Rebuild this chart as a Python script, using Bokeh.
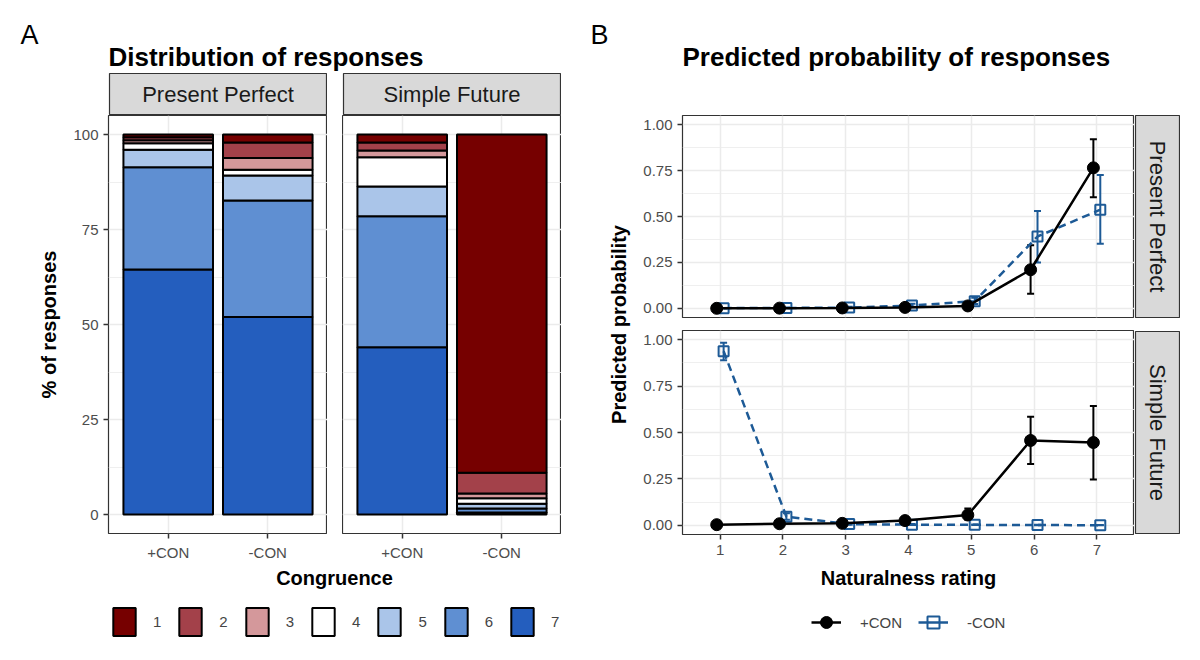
import numpy as np
from bokeh.plotting import figure
from bokeh.layouts import row, column
from bokeh.models import (Range1d, FactorRange, FixedTicker, Label, Legend, LegendItem,
                          ColumnDataSource, Whisker, TeeHead, Spacer, PrintfTickFormatter)
from bokeh.transform import dodge
from bokeh.embed import file_html
from bokeh.resources import INLINE

FONT = "Liberation Sans"

# ---------------- data ----------------
levels = ["1", "2", "3", "4", "5", "6", "7"]
level_colors = ["#760000", "#a3414a", "#d4989b", "#ffffff", "#aac5e9", "#5f8fd2", "#245ebe"]
congruence = ["+CON", "-CON"]
facets = ["Present Perfect", "Simple Future"]

# % of responses per rating level (1..7)
pp_plus_pct = [0.7, 0.8, 0.8, 1.7, 4.6, 26.9, 64.5]
pp_minus_pct = [2.1, 4.1, 3.1, 1.5, 6.6, 30.6, 52.0]
sf_plus_pct = [2.1, 2.1, 1.8, 7.7, 7.8, 34.5, 44.0]
sf_minus_pct = [89.0, 5.5, 1.2, 1.5, 1.2, 1.1, 0.5]

pct_ticks = [0, 25, 50, 75, 100]
pct_minor = [12.5, 37.5, 62.5, 87.5]

# predicted probabilities
ratings = [1, 2, 3, 4, 5, 6, 7]
pp_plus_prob = [0.000, 0.001, 0.002, 0.005, 0.013, 0.210, 0.765]
pp_plus_lo = [0.000, 0.000, 0.001, 0.002, 0.007, 0.080, 0.605]
pp_plus_hi = [0.001, 0.002, 0.004, 0.010, 0.022, 0.343, 0.920]
pp_minus_prob = [0.001, 0.002, 0.004, 0.015, 0.039, 0.391, 0.537]
pp_minus_lo = [0.000, 0.001, 0.002, 0.008, 0.024, 0.250, 0.352]
pp_minus_hi = [0.002, 0.004, 0.008, 0.025, 0.058, 0.530, 0.726]
sf_plus_prob = [0.003, 0.008, 0.010, 0.025, 0.055, 0.457, 0.446]
sf_plus_lo = [0.001, 0.004, 0.005, 0.015, 0.030, 0.330, 0.246]
sf_plus_hi = [0.006, 0.014, 0.018, 0.040, 0.090, 0.585, 0.643]
sf_minus_prob = [0.938, 0.046, 0.006, 0.003, 0.002, 0.001, 0.000]
sf_minus_lo = [0.890, 0.030, 0.003, 0.001, 0.001, 0.000, 0.000]
sf_minus_hi = [0.984, 0.065, 0.010, 0.006, 0.004, 0.002, 0.001]

prob_ticks = [0, 0.25, 0.5, 0.75, 1.0]
prob_minor = [0.125, 0.375, 0.625, 0.875]
series_names = ["+CON", "-CON"]
BLUE = "#1d5a96"
DODGE = 0.055

TICK_FS = "15px"
AXT_FS = "20px"
STRIP_FS = "22px"
TITLE_FS = "26px"


# ---------------- helpers ----------------
def base_fig(w, h, **kw):
    opts = dict(width=w, height=h, output_backend="svg", toolbar_location=None, min_border=0)
    opts.update(kw)
    return figure(**opts)


def blank(w, h, **kw):
    p = base_fig(w, h, x_range=Range1d(0, 1), y_range=Range1d(0, 1),
                 x_axis_location=None, y_axis_location=None, **kw)
    p.grid.visible = False
    p.outline_line_color = None
    return p


def txt(p, x, y, text, size, bold=False, align="left", angle=0.0, color="black"):
    p.add_layout(Label(x=x, y=y, x_units="screen", y_units="screen", text=text,
                       text_font=FONT, text_font_size=size,
                       text_font_style="bold" if bold else "normal",
                       text_align=align, text_baseline="middle", angle=angle,
                       text_color=color))


def strip(w, h, text, angle=0.0):
    p = blank(w, h)
    p.min_border = 1
    p.background_fill_color = "#d9d9d9"
    p.outline_line_color = "#333333"
    p.outline_line_width = 1.2
    txt(p, (w - 2) / 2, (h - 2) / 2, text, STRIP_FS, align="center", angle=angle, color="#1a1a1a")
    return p


def style(p):
    for ax in p.axis:
        ax.axis_line_color = None
        ax.major_tick_line_color = "#333333"
        ax.major_tick_line_width = 1.5
        ax.major_tick_in = 0
        ax.major_tick_out = 5
        ax.minor_tick_line_color = None
        ax.major_label_text_font = FONT
        ax.major_label_text_font_size = TICK_FS
        ax.major_label_text_color = "#4d4d4d"
        ax.major_label_standoff = 5
        ax.axis_label_text_font = FONT
        ax.axis_label_text_font_size = AXT_FS
        ax.axis_label_text_font_style = "bold"
        ax.axis_label_text_color = "black"
    p.outline_line_color = "#333333"
    p.outline_line_width = 1.2
    p.grid.grid_line_color = "#ebebeb"
    p.grid.grid_line_width = 1.5
    p.ygrid.minor_grid_line_color = "#ebebeb"
    p.ygrid.minor_grid_line_width = 0.8


def bar_panel(plus_pct, minus_pct, show_y):
    data = {"cong": congruence}
    for i, lev in enumerate(levels):
        data["r" + lev] = [plus_pct[i], minus_pct[i]]
    src = ColumnDataSource(data)
    lb = 100 if show_y else 0
    p = base_fig(lb + 219, 450,
                 x_range=FactorRange(factors=congruence, range_padding=0.1),
                 y_range=Range1d(-5, 105),
                 min_border_left=lb, min_border_bottom=32,
                 y_axis_location="left" if show_y else None)
    stack = ["r" + l for l in reversed(levels)]
    p.vbar_stack(stack, x="cong", width=0.9, source=src,
                 fill_color=list(reversed(level_colors)),
                 line_color="black", line_width=2)
    p.ygrid.ticker = FixedTicker(ticks=pct_ticks, minor_ticks=pct_minor)
    if show_y:
        p.yaxis.ticker = FixedTicker(ticks=pct_ticks)
        p.yaxis.axis_label = "% of responses"
        p.yaxis.axis_label_standoff = 10
    style(p)
    return p


def prob_panel(plus, minus, bottom):
    bb = 32 if bottom else 0
    p = base_fig(42 + 452, 204 + bb,
                 x_range=Range1d(0.4, 7.6), y_range=Range1d(-0.05, 1.05),
                 min_border_left=42, min_border_bottom=bb,
                 x_axis_location="below" if bottom else None)
    p.yaxis.ticker = FixedTicker(ticks=prob_ticks)
    p.yaxis.formatter = PrintfTickFormatter(format="%.2f")
    p.ygrid.ticker = FixedTicker(ticks=prob_ticks, minor_ticks=prob_minor)
    p.xgrid.ticker = FixedTicker(ticks=ratings)
    if bottom:
        p.xaxis.ticker = FixedTicker(ticks=ratings)
    style(p)
    # -CON
    m, lo, hi = minus
    s2 = ColumnDataSource(dict(x=ratings, y=m, lo=lo, hi=hi))
    xd2 = dodge("x", DODGE)
    p.line(x=xd2, y="y", source=s2, line_color=BLUE, line_width=2.5, line_dash="8 5")
    p.add_layout(Whisker(base=xd2, upper="hi", lower="lo", source=s2, line_color=BLUE, line_width=2,
                         upper_head=TeeHead(size=7, line_color=BLUE, line_width=2),
                         lower_head=TeeHead(size=7, line_color=BLUE, line_width=2)))
    p.scatter(x=xd2, y="y", source=s2, marker="square", size=10, line_color=BLUE,
              fill_color=None, line_width=2)
    # +CON
    m, lo, hi = plus
    s1 = ColumnDataSource(dict(x=ratings, y=m, lo=lo, hi=hi))
    xd1 = dodge("x", -DODGE)
    p.line(x=xd1, y="y", source=s1, line_color="black", line_width=2.5)
    p.add_layout(Whisker(base=xd1, upper="hi", lower="lo", source=s1, line_color="black", line_width=2,
                         upper_head=TeeHead(size=7, line_color="black", line_width=2),
                         lower_head=TeeHead(size=7, line_color="black", line_width=2)))
    p.scatter(x=xd1, y="y", source=s1, marker="circle", size=12, color="black")
    return p


NAN1 = np.array([np.nan])
NAN2 = np.array([np.nan, np.nan])

# ---------------- panel A ----------------
headerA = blank(582, 64)
txt(headerA, 12, 38, "A", "27px")
txt(headerA, 100, 16, "Distribution of responses", TITLE_FS, bold=True)

stripA1 = strip(219, 43, facets[0])
stripA2 = strip(219, 43, facets[1])
ppA = bar_panel(pp_plus_pct, pp_minus_pct, True)
sfA = bar_panel(sf_plus_pct, sf_minus_pct, False)

bottomA = blank(582, 87)
txt(bottomA, 326, 75, "Congruence", AXT_FS, bold=True, align="center")
itemsA = []
for lev, col in zip(levels, level_colors):
    # legend key proxy with no drawable data
    r = bottomA.vbar(x=NAN1, top=NAN1, bottom=NAN1, width=0.5, fill_color=col,
                     line_color="black", line_width=2)
    itemsA.append(LegendItem(label=lev, renderers=[r]))
legA = Legend(items=itemsA, orientation="horizontal", location=(102, 13),
              glyph_width=28, glyph_height=35, label_standoff=15, spacing=15,
              padding=0, margin=0, border_line_color=None, background_fill_alpha=0,
              label_text_font=FONT, label_text_font_size=TICK_FS, label_width=0,
              label_height=35, label_text_baseline="middle")
bottomA.add_layout(legA)

colA = column(
    headerA,
    row(Spacer(width=100, height=43), stripA1, Spacer(width=15, height=43), stripA2,
        Spacer(width=29, height=43)),
    row(ppA, Spacer(width=15, height=450), sfA, Spacer(width=29, height=450)),
    bottomA,
)

# ---------------- panel B ----------------
headerB = blank(602, 106)
txt(headerB, 0, 80, "B", "27px")
txt(headerB, 92, 58, "Predicted probability of responses", TITLE_FS, bold=True)

labelB = blank(50, 452)
txt(labelB, 28, 242, "Predicted probability", AXT_FS, bold=True, align="center", angle=np.pi / 2)

ppB = prob_panel((pp_plus_prob, pp_plus_lo, pp_plus_hi),
                 (pp_minus_prob, pp_minus_lo, pp_minus_hi), False)
sfB = prob_panel((sf_plus_prob, sf_plus_lo, sf_plus_hi),
                 (sf_minus_prob, sf_minus_lo, sf_minus_hi), True)
stripB1 = strip(46, 204, facets[0], angle=-np.pi / 2)
stripB2 = strip(46, 204, facets[1], angle=-np.pi / 2)

bottomB = blank(602, 86)
txt(bottomB, 318, 75, "Naturalness rating", AXT_FS, bold=True, align="center")
# legend key proxies with no drawable data
l1 = bottomB.line(x=NAN2, y=NAN2, line_color="black", line_width=2.5)
m1 = bottomB.scatter(x=NAN1, y=NAN1, marker="circle", size=12, color="black")
l2 = bottomB.line(x=NAN2, y=NAN2, line_color=BLUE, line_width=2.5)
m2 = bottomB.scatter(x=NAN1, y=NAN1, marker="square", size=10, line_color=BLUE,
                     fill_color=None, line_width=2)
legB = Legend(items=[LegendItem(label=series_names[0], renderers=[l1, m1]),
                     LegendItem(label=series_names[1], renderers=[l2, m2])],
              orientation="horizontal", location=(221, 15),
              glyph_width=30, glyph_height=30, label_standoff=19, spacing=16,
              padding=0, margin=0, border_line_color=None, background_fill_alpha=0,
              label_text_font=FONT, label_text_font_size=TICK_FS, label_width=0,
              label_height=30, label_text_baseline="middle")
bottomB.add_layout(legB)

colB = column(
    headerB,
    row(labelB,
        column(row(ppB, stripB1, Spacer(width=12, height=204)),
               Spacer(width=552, height=12),
               row(sfB, column(stripB2, Spacer(width=46, height=32)), Spacer(width=12, height=236)))),
    bottomB,
)

layout = column(Spacer(width=1192, height=8),
                row(Spacer(width=8, height=644), row(colA, colB)))
open("out.html", "w").write(file_html(layout, INLINE))
